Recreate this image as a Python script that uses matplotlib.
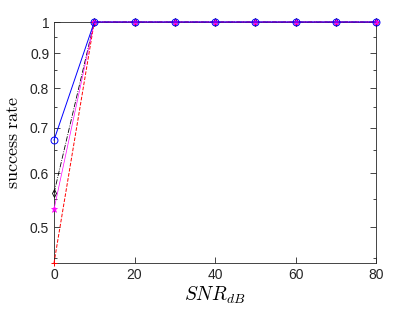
import matplotlib
matplotlib.use("Agg")
import matplotlib.pyplot as plt
from matplotlib.ticker import FixedLocator, NullFormatter

plt.rcParams['mathtext.fontset'] = 'cm'
plt.rcParams['font.family'] = 'Liberation Sans'

snr = [0, 10, 20, 30, 40, 50, 60, 70, 80]
rate_blue = [0.671, 1, 1, 1, 1, 1, 1, 1, 1]
rate_black = [0.561, 1, 1, 1, 1, 1, 1, 1, 1]
rate_magenta = [0.531, 1, 1, 1, 1, 1, 1, 1, 1]
rate_red = [0.443, 1, 1, 1, 1, 1, 1, 1, 1]

fig = plt.figure(figsize=(4.15, 3.12), dpi=100)
ax = fig.add_axes([54/415, 1-263/312, (376-54)/415, (263-22)/312])

ax.plot(snr, rate_black, '-.', color='black', marker='d', mfc='none', ms=4, lw=0.6, mew=0.6, clip_on=False, zorder=3)
ax.plot(snr, rate_red, '--', color='red', marker='+', ms=5, lw=0.7, mew=0.7, clip_on=False, zorder=3)
ax.plot(snr, rate_magenta, '-', color='magenta', marker='*', ms=4.5, lw=0.5, mew=0.5, clip_on=False, zorder=4)
ax.plot(snr, rate_blue, '-', color='blue', marker='o', mfc='none', ms=5, lw=0.7, mew=0.7, clip_on=False, zorder=5)

ax.set_yscale('log')
ax.set_xlim(0, 80)
ax.set_ylim(0.443, 1)
ax.yaxis.set_major_locator(FixedLocator([0.5, 0.6, 0.7, 0.8, 0.9, 1]))
ax.set_yticklabels(['0.5', '0.6', '0.7', '0.8', '0.9', '1'])
minor = [0.45 + 0.05 * i for i in range(11)]
ax.yaxis.set_minor_locator(FixedLocator(minor))
ax.yaxis.set_minor_formatter(NullFormatter())
ax.set_xticks([0, 20, 40, 60, 80])

for s in ax.spines.values():
    s.set_color('#262626')
    s.set_linewidth(0.6)
ax.tick_params(which='both', direction='in', right=True, top=False, labelsize=10, colors='#262626', width=0.6)
ax.tick_params(which='major', length=4)
ax.tick_params(which='minor', length=2)
for lbl in ax.get_xticklabels() + ax.get_yticklabels():
    lbl.set_color('#262626')

ax.set_xlabel(r'$SNR_{dB}$', fontsize=14, labelpad=2)
ax.set_ylabel(r'$\mathrm{success\ rate}$', fontsize=13, labelpad=6)

fig.savefig('out.png', dpi=100)
